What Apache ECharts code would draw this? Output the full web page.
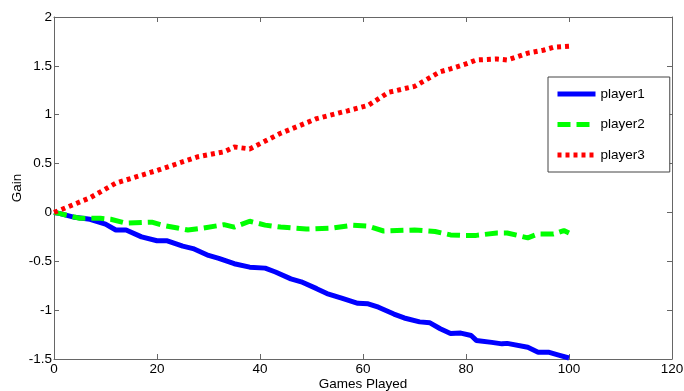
<!DOCTYPE html>
<html>
<head>
<meta charset="utf-8">
<script src="https://cdn.jsdelivr.net/npm/echarts@6/dist/echarts.min.js"></script>
<style>html,body{margin:0;padding:0;background:#fff}#c{width:684px;height:391px}</style>
</head>
<body>
<div id="c"></div>
<script>
var p1Games = [0,1,4,7,10,12,14,17,20,22,25,27,30,32,35,38,41,43,46,48,51,53,56,59,61,63,66,68,71,73,75,77,79,81,82,85,87,88,92,94,96,98,100];
var p1Gain  = [0,-0.01,-0.05,-0.07,-0.12,-0.18,-0.18,-0.25,-0.29,-0.29,-0.345,-0.37,-0.44,-0.47,-0.525,-0.56,-0.57,-0.61,-0.68,-0.71,-0.78,-0.83,-0.88,-0.93,-0.935,-0.97,-1.04,-1.08,-1.12,-1.13,-1.19,-1.24,-1.235,-1.26,-1.31,-1.33,-1.345,-1.34,-1.38,-1.43,-1.43,-1.46,-1.49];
var p2Games = [0,1,5,9,11,14,19,21,24,26,29,33,35,38,41,44,49,54,58,61,64,70,74,77,79,82,86,88,92,94,97,99,100];
var p2Gain  = [0,-0.01,-0.06,-0.06,-0.07,-0.11,-0.10,-0.13,-0.16,-0.18,-0.16,-0.125,-0.15,-0.09,-0.13,-0.15,-0.17,-0.16,-0.13,-0.14,-0.19,-0.18,-0.195,-0.23,-0.235,-0.235,-0.21,-0.21,-0.26,-0.22,-0.22,-0.185,-0.21];
var p3Games = [0,1,7,12,20,28,33,35,38,44,51,57,61,65,70,75,77,80,82,86,88,92,95,97,100];
var p3Gain  = [0,0.02,0.15,0.30,0.43,0.57,0.62,0.67,0.65,0.81,0.96,1.04,1.095,1.23,1.29,1.44,1.47,1.52,1.56,1.57,1.56,1.63,1.66,1.69,1.70];
var seriesNames = ['player1','player2','player3'];
var xTicks = {min:0, max:120, interval:20};
var yTicks = {min:-1.5, max:2, interval:0.5};

function pairs(g, v){ return g.map(function(x,i){ return [x, v[i]]; }); }

var font = 'Liberation Sans, Arial, sans-serif';
var fs = 13.5;
var axisCol = '#666';
var chart = echarts.init(document.getElementById('c'));
var baseX = {type:'value', min:xTicks.min, max:xTicks.max, interval:xTicks.interval,
  axisLine:{show:true, onZero:false, lineStyle:{color:axisCol, width:1}},
  axisTick:{show:true, inside:true, length:5, lineStyle:{color:axisCol}},
  splitLine:{show:false}};
var baseY = {type:'value', min:yTicks.min, max:yTicks.max, interval:yTicks.interval,
  axisLine:{show:true, onZero:false, lineStyle:{color:axisCol, width:1}},
  axisTick:{show:true, inside:true, length:5, lineStyle:{color:axisCol}},
  splitLine:{show:false}};
chart.setOption({
  animation:false,
  backgroundColor:'#fff',
  grid:{left:54, right:12, top:17, bottom:32, containLabel:false, outerBoundsMode:'none'},
  legend:{
    orient:'vertical', left:548, top:77,
    data:seriesNames,
    itemWidth:38, itemHeight:14, itemGap:16.5,
    padding:[10,25,10,7],
    borderColor:'#444', borderWidth:1, backgroundColor:'#fff', borderRadius:0,
    itemStyle:{opacity:0},
    lineStyle:{width:5},
    textStyle:{fontFamily:font, fontSize:fs, color:'#000', padding:[0,0,0,0]}
  },
  xAxis:[
    Object.assign({}, baseX, {position:'bottom', name:'Games Played', nameLocation:'middle', nameGap:18, nameMoveOverlap:false,
      nameTextStyle:{fontFamily:font, fontSize:fs, color:'#000'},
      axisLabel:{fontFamily:font, fontSize:fs, color:'#000', margin:3}}),
    Object.assign({}, baseX, {position:'top', axisLabel:{show:false}})
  ],
  yAxis:[
    Object.assign({}, baseY, {position:'left', name:'Gain', nameLocation:'middle', nameGap:30, nameRotate:90, nameMoveOverlap:false,
      nameTextStyle:{fontFamily:font, fontSize:fs, color:'#000'},
      axisLabel:{fontFamily:font, fontSize:fs, color:'#000', margin:2}}),
    Object.assign({}, baseY, {position:'right', axisLabel:{show:false}})
  ],
  series:[
    {name:seriesNames[0], type:'line', showSymbol:false, symbol:'none', data:pairs(p1Games,p1Gain),
      itemStyle:{color:'#0000ff'}, lineStyle:{color:'#0000ff', width:5, type:'solid'}},
    {name:seriesNames[1], type:'line', showSymbol:false, symbol:'none', data:pairs(p2Games,p2Gain),
      itemStyle:{color:'#00ff00'}, lineStyle:{color:'#00ff00', width:5, type:[13,6]}},
    {name:seriesNames[2], type:'line', showSymbol:false, symbol:'none', data:pairs(p3Games,p3Gain),
      itemStyle:{color:'#ff0000'}, lineStyle:{color:'#ff0000', width:5, type:[4,4]}}
  ]
});
</script>
</body>
</html>
